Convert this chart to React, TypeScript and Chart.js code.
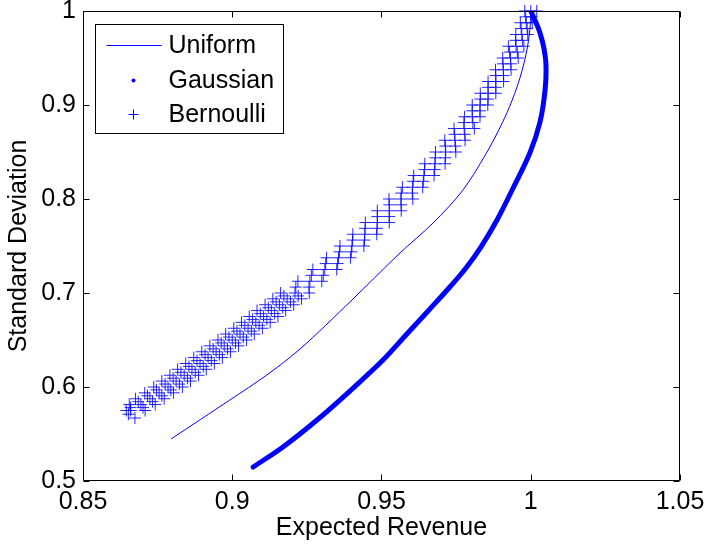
import React, { useEffect, useRef } from 'react';
import { Chart, registerables } from 'chart.js';

Chart.register(...registerables);

// ---- data ----
const seriesNames = ['Uniform', 'Gaussian', 'Bernoulli'];
const xTitle = 'Expected Revenue';
const yTitle = 'Standard Deviation';

const xTicks = [0.85, 0.9, 0.95, 1, 1.05];
const xTickLabels = ['0.85', '0.9', '0.95', '1', '1.05'];
const yTicks = [0.5, 0.6, 0.7, 0.8, 0.9, 1];
const yTickLabels = ['0.5', '0.6', '0.7', '0.8', '0.9', '1'];

const uniformX = [0.8795, 0.8992, 0.9116, 0.9227, 0.9394, 0.9562, 0.9673, 0.9773, 0.9863, 0.992, 0.9954, 0.9974, 0.9987, 0.9997, 1.0];
const uniformY = [0.5447, 0.5862, 0.6128, 0.6404, 0.6904, 0.7426, 0.7745, 0.8096, 0.8553, 0.8915, 0.9191, 0.9404, 0.9585, 0.98, 1.0];

const gaussianX = [0.907, 0.917, 0.9284, 0.9394, 0.9505, 0.9585, 0.9656, 0.9729, 0.9783, 0.9833, 0.9887, 0.9941, 0.9997, 1.0031, 1.0048, 1.0051, 1.0044, 1.0031, 1.0014, 1.0];
const gaussianY = [0.5149, 0.5362, 0.5649, 0.5957, 0.6287, 0.6564, 0.6809, 0.7064, 0.7266, 0.7489, 0.7777, 0.8117, 0.8489, 0.8819, 0.916, 0.9426, 0.9606, 0.9766, 0.9904, 1.0];

// Bernoulli: a thick band of "+" samples, read as rows across the band
const bernoulliY = [
  0.575, 0.5813, 0.5875, 0.5938, 0.6, 0.6063, 0.6125, 0.6188, 0.625, 0.6313, 0.6375, 0.6438, 0.65, 0.6563, 0.6625, 0.6688, 0.675, 0.6813, 0.6875, 0.6938, 0.7,
  0.7125, 0.725, 0.7375, 0.75, 0.7625, 0.775, 0.7875, 0.8, 0.8125, 0.825, 0.8375, 0.85, 0.8625, 0.875, 0.8875, 0.9, 0.9125, 0.925, 0.9375, 0.95, 0.9625, 0.975, 0.9875, 1.0,
];
const bernoulliOuterLeftX = [
  0.8645, 0.8655, 0.8676, 0.8707, 0.8737, 0.8764, 0.8791, 0.8817, 0.8844, 0.8871, 0.8898, 0.8925, 0.8952, 0.8978, 0.9005, 0.9031, 0.9057, 0.9083, 0.911, 0.9136, 0.9162,
  0.922, 0.927, 0.9316, 0.9361, 0.9404, 0.9446, 0.9486, 0.9525, 0.957, 0.9608, 0.9645, 0.9681, 0.9712, 0.9743, 0.9778, 0.9804, 0.9831, 0.9857, 0.9882, 0.9906, 0.9925, 0.995, 0.9965, 0.998,
];
const bernoulliMidX = [
  0.866, 0.8694, 0.8724, 0.8755, 0.8785, 0.8812, 0.8839, 0.8865, 0.8892, 0.8919, 0.8946, 0.8973, 0.9, 0.9026, 0.9053, 0.9079, 0.9105, 0.9131, 0.9158, 0.9184, 0.921,
  0.926, 0.931, 0.9356, 0.9401, 0.9444, 0.9486, 0.9526, 0.9565, 0.9604, 0.9642, 0.9679, 0.9715, 0.9746, 0.9777, 0.9804, 0.983, 0.9857, 0.9883, 0.9908, 0.9932, 0.9951, 0.997, 0.9985, 1.0,
];
const bernoulliOuterRightX = [
  0.8708, 0.8742, 0.8772, 0.8803, 0.8833, 0.886, 0.8887, 0.8913, 0.894, 0.8967, 0.8994, 0.9021, 0.9048, 0.9074, 0.9101, 0.9127, 0.9153, 0.9179, 0.9206, 0.9232, 0.9258,
  0.93, 0.935, 0.9396, 0.9441, 0.9484, 0.9526, 0.9566, 0.9605, 0.9638, 0.9676, 0.9713, 0.9749, 0.978, 0.9811, 0.983, 0.9856, 0.9883, 0.9909, 0.9934, 0.9958, 0.9977, 0.999, 1.0005, 1.002,
];
const bernoulliHalfY = [
  0.5781, 0.5844, 0.5906, 0.5969, 0.6031, 0.6094, 0.6156, 0.6219, 0.6281, 0.6344, 0.6406, 0.6469, 0.6531, 0.6594, 0.6656, 0.6719, 0.6781, 0.6844, 0.6906, 0.6969, 0.7063,
  0.7188, 0.7313, 0.7438, 0.7563, 0.7688, 0.7813, 0.7938, 0.8063, 0.8188, 0.8313, 0.8438, 0.8563, 0.8688, 0.8813, 0.8938, 0.9063, 0.9188, 0.9313, 0.9438, 0.9563, 0.9688, 0.9813, 0.9938,
];
const bernoulliInnerLeftX = [
  0.8659, 0.8685, 0.8716, 0.8746, 0.8775, 0.8802, 0.8828, 0.8855, 0.8882, 0.8909, 0.8936, 0.8963, 0.8989, 0.9016, 0.9042, 0.9068, 0.9094, 0.9121, 0.9147, 0.9173, 0.9213,
  0.9265, 0.9313, 0.9359, 0.9403, 0.9445, 0.9486, 0.9526, 0.9566, 0.9606, 0.9644, 0.968, 0.9714, 0.9745, 0.9776, 0.9804, 0.9831, 0.9857, 0.9883, 0.9907, 0.9929, 0.9949, 0.9968, 0.9983,
];
const bernoulliInnerRightX = [
  0.8701, 0.8733, 0.8764, 0.8794, 0.8823, 0.885, 0.8876, 0.8903, 0.893, 0.8957, 0.8984, 0.9011, 0.9037, 0.9064, 0.909, 0.9116, 0.9142, 0.9169, 0.9195, 0.9221, 0.9257,
  0.9305, 0.9353, 0.9399, 0.9443, 0.9485, 0.9526, 0.9566, 0.9603, 0.964, 0.9678, 0.9714, 0.9748, 0.9779, 0.9806, 0.983, 0.9857, 0.9883, 0.9909, 0.9933, 0.9955, 0.9972, 0.9988, 1.0003,
];
const bernoulliExtraX = [0.8674, 0.8652];
const bernoulliExtraY = [0.567, 0.571];

const BLUE = '#0000ff';
const FONT = "'Liberation Sans', Arial, Helvetica, sans-serif";

const zip = (xs: number[], ys: number[]) => xs.map((x, i) => ({ x, y: ys[i] }));

const matlabAxes = {
  id: 'matlabAxes',
  afterDatasetsDraw(chart: any) {
    const { ctx, chartArea: a, scales } = chart;
    const L = Math.round(a.left) + 0.5;
    const R = Math.round(a.right) - 0.5;
    const T = Math.round(a.top) + 0.5;
    const B = Math.round(a.bottom) - 0.5;
    ctx.save();
    ctx.strokeStyle = '#000';
    ctx.lineWidth = 1;
    ctx.beginPath();
    ctx.rect(L, T, R - L, B - T);
    ctx.stroke();
    const tl = 6;
    ctx.beginPath();
    xTicks.forEach((v) => {
      const px = Math.round(scales.x.getPixelForValue(v)) + 0.5;
      ctx.moveTo(px, B); ctx.lineTo(px, B - tl);
      ctx.moveTo(px, T); ctx.lineTo(px, T + tl);
    });
    yTicks.forEach((v) => {
      const py = Math.round(scales.y.getPixelForValue(v)) + 0.5;
      ctx.moveTo(L, py); ctx.lineTo(L + tl, py);
      ctx.moveTo(R, py); ctx.lineTo(R - tl, py);
    });
    ctx.stroke();

    // legend (MATLAB style, top-left inside axes)
    const bx = Math.round(a.left) + 12.5;
    const by = Math.round(a.top) + 13.5;
    const bw = 188;
    const bh = 109;
    ctx.fillStyle = '#fff';
    ctx.fillRect(bx, by, bw, bh);
    ctx.strokeStyle = '#000';
    ctx.strokeRect(bx, by, bw, bh);
    const rows = [21, 56, 90];
    const ds = chart.data.datasets;
    ctx.font = `25px ${FONT}`;
    ctx.textBaseline = 'middle';
    ctx.textAlign = 'left';
    rows.forEach((dy, i) => {
      const y = by + dy;
      const d = ds[i];
      ctx.strokeStyle = BLUE;
      ctx.fillStyle = BLUE;
      ctx.lineWidth = 1;
      if (i === 0) {
        ctx.beginPath();
        ctx.moveTo(bx + 11, y); ctx.lineTo(bx + 66, y);
        ctx.stroke();
      } else if (i === 1) {
        ctx.beginPath();
        ctx.arc(bx + 38, y, 2, 0, Math.PI * 2);
        ctx.fill();
      } else {
        ctx.beginPath();
        ctx.moveTo(bx + 33, y); ctx.lineTo(bx + 43, y);
        ctx.moveTo(bx + 38, y - 5); ctx.lineTo(bx + 38, y + 5);
        ctx.stroke();
      }
      ctx.fillStyle = '#000';
      ctx.fillText(d.label, bx + 73, y + 1);
    });
    ctx.restore();
  },
};

export default function App() {
  const ref = useRef<HTMLCanvasElement | null>(null);
  useEffect(() => {
    if (!ref.current) return;
    const chart = new Chart(ref.current, {
      type: 'scatter',
      data: {
        datasets: [
          {
            label: seriesNames[0],
            data: zip(uniformX, uniformY),
            showLine: true,
            borderColor: BLUE,
            borderWidth: 1,
            pointRadius: 0,
            pointHoverRadius: 0,
            tension: 0.3,
            order: 3,
          },
          {
            label: seriesNames[1],
            data: zip(gaussianX, gaussianY),
            showLine: true,
            borderColor: BLUE,
            borderWidth: 5,
            borderCapStyle: 'round',
            borderJoinStyle: 'round',
            pointRadius: 0,
            pointHoverRadius: 0,
            tension: 0.35,
            order: 2,
          },
          {
            label: seriesNames[2],
            data: [
              ...zip(bernoulliOuterLeftX, bernoulliY),
              ...zip(bernoulliMidX, bernoulliY),
              ...zip(bernoulliOuterRightX, bernoulliY),
              ...zip(bernoulliInnerLeftX, bernoulliHalfY),
              ...zip(bernoulliInnerRightX, bernoulliHalfY),
              ...zip(bernoulliExtraX, bernoulliExtraY),
            ],
            showLine: false,
            clip: false,
            pointStyle: 'cross',
            pointRadius: 6,
            pointHoverRadius: 6,
            borderColor: 'rgba(0,0,255,0.85)',
            backgroundColor: 'rgba(0,0,255,0.85)',
            pointBorderWidth: 1,
            order: 1,
          } as any,
        ],
      },
      options: {
        animation: false,
        responsive: false,
        events: [],
        layout: { padding: { top: 11, right: 25, left: 0, bottom: 0 } },
        plugins: { legend: { display: false }, tooltip: { enabled: false } },
        scales: {
          x: {
            type: 'linear',
            min: 0.85,
            max: 1.05,
            grid: { display: false, drawTicks: false },
            border: { display: false },
            afterBuildTicks: (s: any) => { s.ticks = xTicks.map((v) => ({ value: v })); },
            afterFit: (s: any) => { s.height = 63; s.paddingLeft = 0; s.paddingRight = 0; },
            ticks: {
              padding: 6,
              color: '#000',
              maxRotation: 0,
              autoSkip: false,
              font: { family: FONT, size: 25, lineHeight: 1.2 },
              callback: (v: any) => xTickLabels[xTicks.findIndex((t) => Math.abs(t - v) < 1e-9)] ?? '',
            },
            title: {
              display: true,
              text: xTitle,
              color: '#000',
              font: { family: FONT, size: 25, lineHeight: 1.2 },
              padding: { top: 0, bottom: 1 },
            },
          },
          y: {
            type: 'linear',
            min: 0.5,
            max: 1,
            grid: { display: false, drawTicks: false },
            border: { display: false },
            afterBuildTicks: (s: any) => { s.ticks = yTicks.map((v) => ({ value: v })); },
            afterFit: (s: any) => { s.width = 83; s.paddingTop = 0; s.paddingBottom = 0; },
            ticks: {
              padding: 7,
              color: '#000',
              autoSkip: false,
              font: { family: FONT, size: 25, lineHeight: 1.2 },
              callback: (v: any) => yTickLabels[yTicks.findIndex((t) => Math.abs(t - v) < 1e-9)] ?? '',
            },
            title: {
              display: true,
              text: yTitle,
              color: '#000',
              font: { family: FONT, size: 25, lineHeight: 1.2 },
              padding: { top: 4, bottom: 0 },
            },
          },
        },
      },
      plugins: [matlabAxes],
    } as any);
    return () => chart.destroy();
  }, []);

  return (
    <div style={{ position: 'absolute', left: 0, top: 0, width: 705, height: 544, background: '#fff' }}>
      <canvas ref={ref} width={705} height={544} style={{ display: 'block' }} />
    </div>
  );
}
